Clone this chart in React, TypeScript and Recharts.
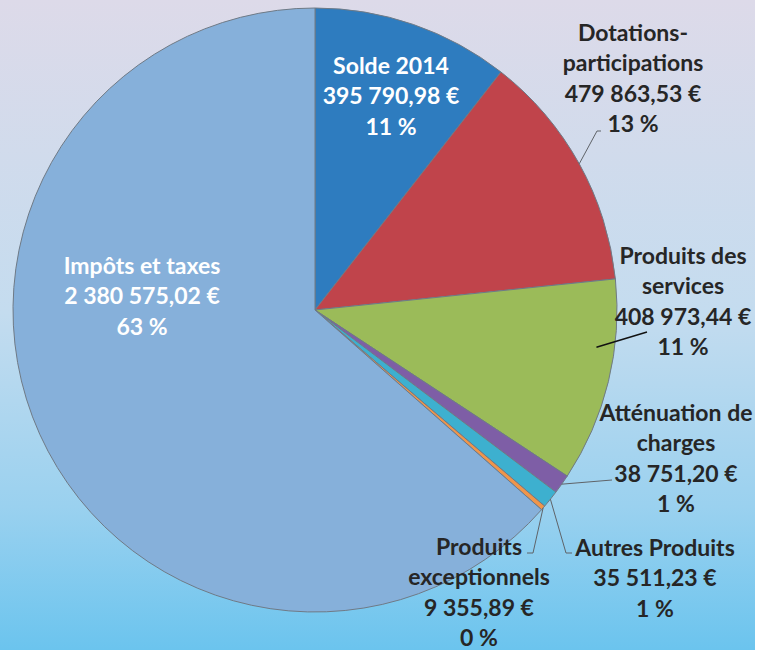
import { PieChart, Pie, Cell } from "recharts";

// categories, clockwise from 12 o'clock
const categories = [
  "Solde 2014",
  "Dotations-\nparticipations",
  "Produits des\nservices",
  "Atténuation de\ncharges",
  "Autres Produits",
  "Produits\nexceptionnels",
  "Impôts et taxes",
];
const amounts = [395790.98, 479863.53, 408973.44, 38751.2, 35511.23, 9355.89, 2380575.02];
const percentLabels = ["11 %", "13 %", "11 %", "1 %", "1 %", "0 %", "63 %"];

const colors = ["#2e7cbf", "#c0444b", "#9bbb59", "#7e5ea6", "#3db0cf", "#f0954a", "#86b0da"];

// label placement: first line centre relative to pie centre, text colour, leader
const labelLayout = [
  { dx: 76, dy: -245, inside: true },
  { dx: 318, dy: -278, leader: [[282, -179], [286, -179]] },
  { dx: 368, dy: -55, leader: [[332, 22]], from: { shift: 6.2, r: 0.94 }, dark: true },
  { dx: 361, dy: 102, leader: [[297, 170]] },
  { dx: 340, dy: 237, leader: [[251, 243], [257, 243]] },
  { dx: 164, dy: 236, leader: [[218, 243], [212, 243]] },
  { dx: -173, dy: -45, inside: true },
];

const data = categories.map((name, i) => ({ name, value: amounts[i] }));

const RAD = Math.PI / 180;
const LINE = 30.3;

function fmt(v: number) {
  const [int, dec] = v.toFixed(2).split(".");
  const grouped = int.replace(/\B(?=(\d{3})+(?!\d))/g, " ");
  return `${grouped},${dec} €`;
}

function renderLabel(props: any) {
  const { cx, cy, midAngle, outerRadius, index } = props;
  const lay = labelLayout[index];
  const lines = [...categories[index].split("\n"), fmt(amounts[index]), percentLabels[index]];
  const tx = cx + lay.dx;
  const ty = cy + lay.dy;
  let leader = null;
  if (lay.leader) {
    const ang = midAngle + (lay.from ? lay.from.shift : 0);
    const r = outerRadius * (lay.from ? lay.from.r : 1);
    const sx = cx + r * Math.cos(-ang * RAD);
    const sy = cy + r * Math.sin(-ang * RAD);
    const pts = [[sx, sy], ...lay.leader.map(([x, y]) => [cx + x, cy + y])];
    leader = (
      <polyline
        points={pts.map((p) => p.join(",")).join(" ")}
        fill="none"
        stroke={lay.dark ? "#111" : "#5f6368"}
        strokeWidth={lay.dark ? 1.5 : 1}
      />
    );
  }
  return (
    <g key={`lbl-${index}`}>
      {leader}
      {lines.map((t, k) => (
        <text
          key={k}
          x={tx}
          y={ty + k * LINE}
          textAnchor="middle"
          dominantBaseline="central"
          fill={lay.inside ? "#ffffff" : "#262626"}
          fontFamily="Lato, 'Noto Sans', sans-serif"
          fontWeight={700}
          fontSize={23}
        >
          {t}
        </text>
      ))}
    </g>
  );
}

export default function App() {
  return (
    <div style={{ position: "absolute", left: 0, top: 0, width: 767, height: 650, background: "#ffffff" }}>
      <div
        style={{
          width: 755,
          height: 650,
          background: "linear-gradient(to bottom, #dddae9 0%, #c4dcef 48%, #9ad1ef 78%, #6bc4ee 100%)",
        }}
      >
        <PieChart width={755} height={650} margin={{ top: 0, right: 0, bottom: 0, left: 0 }}>
          <Pie
            data={data}
            dataKey="value"
            nameKey="name"
            cx={315}
            cy={310}
            outerRadius={302}
            startAngle={90}
            endAngle={-270}
            stroke="#6f7a86"
            strokeWidth={1}
            label={renderLabel}
            labelLine={false}
            isAnimationActive={false}
          >
            {data.map((d, i) => (
              <Cell key={d.name} fill={colors[i]} />
            ))}
          </Pie>
        </PieChart>
      </div>
    </div>
  );
}
